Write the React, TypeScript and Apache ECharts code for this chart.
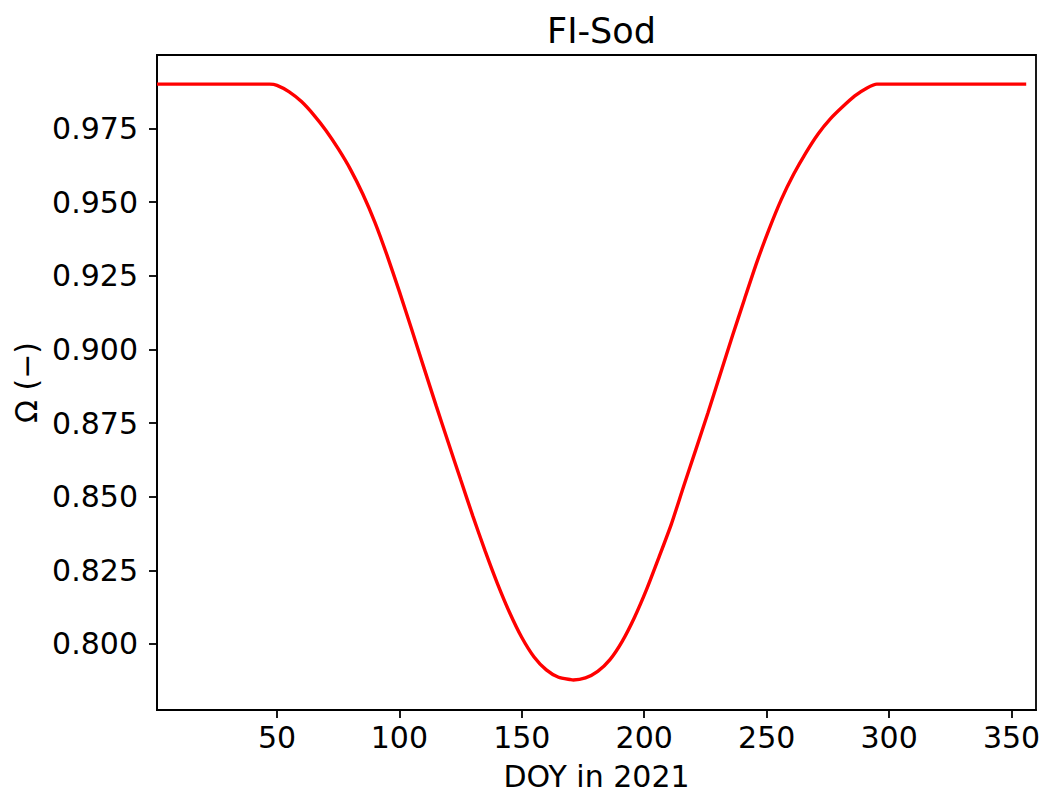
import React, { useEffect, useRef } from "react";
import * as echarts from "echarts";

const titleText = "FI-Sod";
const xName = "DOY in 2021";
const yName = "Ω (−)";

const doy = [
  1, 47, 50, 55, 60, 65, 70, 75, 80, 85, 90, 95, 100, 105, 110, 115, 120, 125, 130, 135, 140, 145, 150, 155, 160, 165, 170, 171,
  176, 181, 186, 191, 196, 201, 206, 211, 216, 221, 226, 231, 236, 241, 246, 251, 256, 261, 266, 271, 276, 281, 286, 291, 295, 356,
];
const omega = [
  0.99, 0.99, 0.9896, 0.9874, 0.9841, 0.9796, 0.9743, 0.9681, 0.9611, 0.9528, 0.9431, 0.9318, 0.9196, 0.9068, 0.8938, 0.8809,
  0.8683, 0.8558, 0.8434, 0.8316, 0.8206, 0.8107, 0.8022, 0.7956, 0.7912, 0.7887, 0.7879, 0.7878,
  0.7885, 0.7907, 0.7947, 0.8009, 0.809, 0.8186, 0.8294, 0.8405, 0.8533, 0.8658, 0.8784, 0.8915, 0.9045, 0.9172, 0.9296,
  0.9408, 0.9509, 0.9594, 0.9667, 0.9731, 0.9782, 0.9823, 0.986, 0.9887, 0.99, 0.99,
];

const xTicks = [50, 100, 150, 200, 250, 300, 350];
const yTicks = [0.8, 0.825, 0.85, 0.875, 0.9, 0.925, 0.95, 0.975];

const FONT = "DejaVu Sans";

export default function App() {
  const ref = useRef<HTMLDivElement>(null);
  useEffect(() => {
    if (!ref.current) return;
    const chart = echarts.init(ref.current, null, { renderer: "svg" });
    const data = doy.map((d, i) => [d, omega[i]]);
    chart.setOption({
      animation: false,
      backgroundColor: "#ffffff",
      textStyle: { fontFamily: FONT, color: "#000" },
      title: {
        text: titleText,
        left: 596.5,
        top: 8,
        textAlign: "center",
        textStyle: { fontFamily: FONT, fontSize: 35, fontWeight: "normal", color: "#000" },
      },
      grid: {
        left: 157,
        right: 9,
        top: 55,
        bottom: 86,
        show: true,
        borderColor: "#000",
        borderWidth: 1.8,
        backgroundColor: "transparent",
      },
      xAxis: {
        type: "value",
        min: 1,
        max: 360,
        name: xName,
        nameLocation: "middle",
        nameGap: 51,
        nameTextStyle: { fontFamily: FONT, fontSize: 30, color: "#000" },
        axisLine: { show: true, onZero: false, lineStyle: { color: "#000", width: 1.8 } },
        axisTick: { show: true, length: 8, lineStyle: { color: "#000", width: 1.8 }, customValues: xTicks },
        axisLabel: { fontFamily: FONT, fontSize: 30, color: "#000", margin: 12, customValues: xTicks },
        splitLine: { show: false },
      },
      yAxis: {
        type: "value",
        min: 0.7776,
        max: 0.9999,
        name: yName,
        nameLocation: "middle",
        nameGap: 110,
        nameRotate: 90,
        nameTextStyle: { fontFamily: FONT, fontSize: 30, color: "#000" },
        axisLine: { show: true, onZero: false, lineStyle: { color: "#000", width: 1.8 } },
        axisTick: { show: true, length: 8, lineStyle: { color: "#000", width: 1.8 }, customValues: yTicks },
        axisLabel: {
          fontFamily: FONT,
          fontSize: 30,
          color: "#000",
          margin: 19,
          customValues: yTicks,
          formatter: (v: number) => v.toFixed(3),
        },
        splitLine: { show: false },
      },
      series: [
        {
          type: "line",
          data,
          smooth: 0.2,
          showSymbol: false,
          lineStyle: { color: "#ff0000", width: 3.4 },
          itemStyle: { color: "#ff0000" },
        },
      ],
    });
    return () => chart.dispose();
  }, []);
  return (
    <div
      ref={ref}
      style={{ position: "fixed", left: 0, top: 0, width: 1045, height: 796, background: "#fff" }}
    />
  );
}
